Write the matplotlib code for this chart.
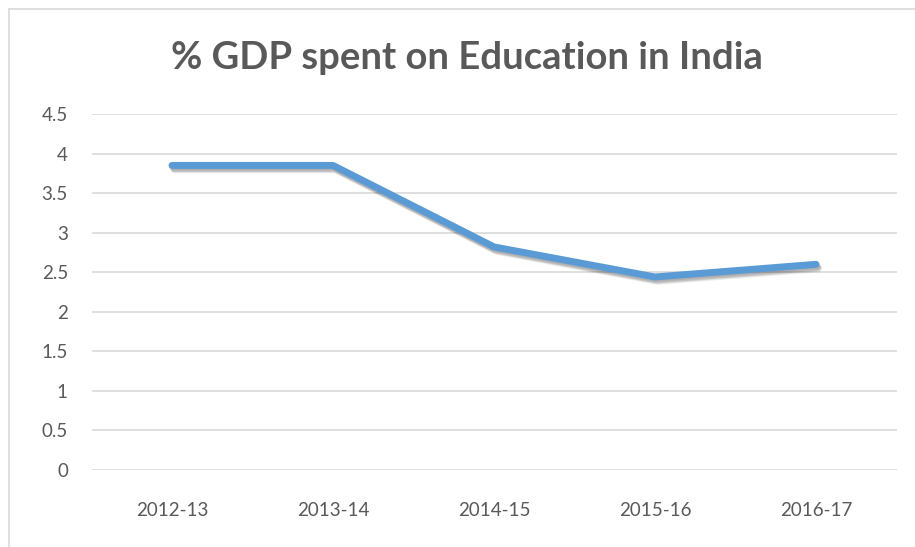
import matplotlib
matplotlib.use("Agg")
import matplotlib.pyplot as plt
import matplotlib.patheffects as pe
from matplotlib.lines import Line2D

categories = ["2012-13", "2013-14", "2014-15", "2015-16", "2016-17"]
values = [3.85, 3.85, 2.82, 2.44, 2.60]
yticks = [0, 0.5, 1, 1.5, 2, 2.5, 3, 3.5, 4, 4.5]
ytick_labels = ["0", "0.5", "1", "1.5", "2", "2.5", "3", "3.5", "4", "4.5"]
title = "% GDP spent on Education in India"

plt.rcParams['font.family'] = ['Lato', 'DejaVu Sans']

W, H = 915, 547
fig = plt.figure(figsize=(W / 100, H / 100), dpi=100)
ax = fig.add_axes([91.5 / W, 1 - 470 / H, (896.5 - 91.5) / W, (470 - 114) / H])

x = list(range(len(categories)))
shadows = [pe.SimpleLineShadow(offset=(dx, dy), shadow_color="black", alpha=0.07)
           for dx, dy in [(0.5, -1.0), (1.0, -1.8), (1.5, -2.6), (2.0, -3.2), (1.2, -2.2)]]
ax.plot(x, values, color="#5B9BD5", linewidth=5, solid_capstyle="round",
        solid_joinstyle="round",
        path_effects=shadows + [pe.Normal()], zorder=3)

ax.set_xlim(-0.5, len(categories) - 0.5)
ax.set_ylim(0, 4.5)
ax.set_yticks(yticks)
ax.set_yticklabels(ytick_labels)
ax.set_xticks(x)
ax.set_xticklabels(categories)
ax.grid(axis="y", color="#D9D9D9", linewidth=1.2)
ax.set_axisbelow(True)
for s in ax.spines.values():
    s.set_visible(False)
ax.tick_params(axis="both", length=0, colors="#595959", labelsize=13.5)
ax.tick_params(axis="y", pad=17)
ax.tick_params(axis="x", pad=23)

fig.text(467 / W, 1 - 58 / H, title, ha="center", va="center", fontsize=27.5,
         fontweight="bold", color="#595959")

# chart frame (partially visible)
fig.add_artist(Line2D([8.5 / W, 8.5 / W], [0, 1 - 8.5 / H], transform=fig.transFigure,
                      color="#D9D9D9", linewidth=1.2))
fig.add_artist(Line2D([8.5 / W, 1], [1 - 8.5 / H, 1 - 8.5 / H], transform=fig.transFigure,
                      color="#D9D9D9", linewidth=1.2))

fig.savefig("out.png", dpi=100)
